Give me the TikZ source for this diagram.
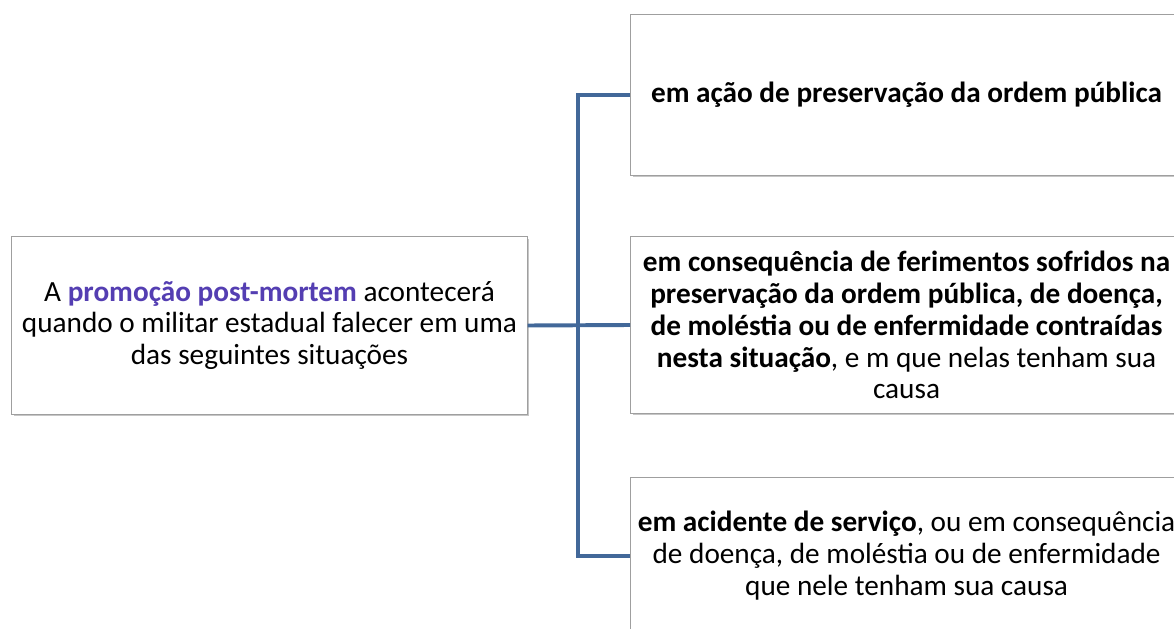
\documentclass[tikz,border=0pt]{standalone}
\usepackage{fontspec}
\setmainfont{Carlito}
\usepackage{xcolor}
\usetikzlibrary{shadows}
\definecolor{linkblue}{RGB}{66,104,153}
\definecolor{promo}{RGB}{84,62,178}

\begin{document}
\begin{tikzpicture}[x=0.025cm, y=-0.025cm,
	box/.style={draw=gray!75, line width=0.7pt, fill=white, align=center, inner sep=2pt,
		font=\fontsize{20.8}{22.7}\selectfont,
		drop shadow={shadow xshift=1.5pt, shadow yshift=-1.5pt, opacity=0.45, fill=gray}},
	link/.style={linkblue, line width=2.8pt}]
	\useasboundingbox (0,0) rectangle (1174,629);
	\clip (0,0) rectangle (1174,629);
	\node[box, minimum width=12.875cm, minimum height=4.425cm] (cause) at (269.5,325.5)
		{A \textbf{\color{promo}promoção post-mortem} acontecerá\\quando o militar estadual falecer em uma\\das seguintes situações};
	\node[box, anchor=west, minimum width=13.8cm, minimum height=4cm] (acao) at (630,95)
		{\textbf{em ação de preservação da ordem pública}};
	\node[box, anchor=west, minimum width=13.8cm, minimum height=4.4cm] (ferim) at (630,325)
		{\textbf{em consequência de ferimentos sofridos na}\\\textbf{preservação da ordem pública, de doença,}\\\textbf{de moléstia ou de enfermidade contraídas}\\\textbf{nesta situação}, e m que nelas tenham sua\\causa};
	\node[box, anchor=west, minimum width=13.8cm, minimum height=3.9cm] (acid) at (630,556)
		{\textbf{em acidente de serviço}, ou em consequência\\de doença, de moléstia ou de enfermidade\\que nele tenham sua causa};
	\coordinate (trunk) at (578,325);
	\draw[link] (cause.east) -- (ferim.west);
	\draw[link] (acao.west) -| (trunk) |- (acid.west);
\end{tikzpicture}
\end{document}
